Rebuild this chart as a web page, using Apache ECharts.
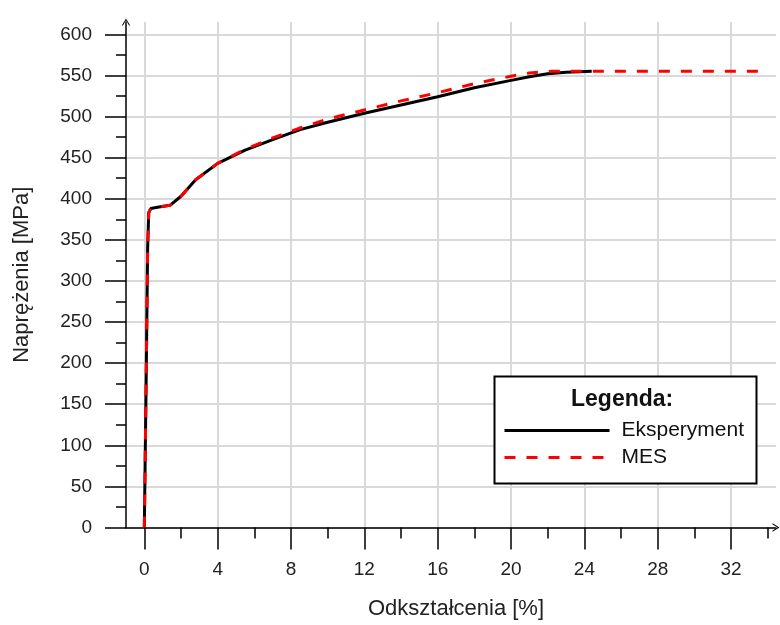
<!DOCTYPE html>
<html>
<head>
<meta charset="utf-8">
<script src="https://cdn.jsdelivr.net/npm/echarts@6/dist/echarts.min.js"></script>
<style>
  html, body { margin: 0; padding: 0; background: #fff; }
  #myChart { width: 780px; height: 625px; }
</style>
</head>
<body>
<div id="myChart"></div>
<script>
  // strain [%], stress [MPa]
  var eksperyment = [
    [0, 0], [0.1, 180], [0.18, 340], [0.24, 383], [0.35, 388], [0.8, 390],
    [1.4, 392], [2, 403], [2.8, 423], [4, 443], [5.5, 459], [7, 472],
    [8.5, 484], [10, 493], [12, 504], [14, 514], [16, 524], [18, 535],
    [20, 544], [21, 548.5], [22, 552], [23, 554], [24.4, 555]
  ]
  var mes = [
    [0, 0], [0.1, 180], [0.18, 340], [0.24, 383], [0.35, 388], [0.8, 390],
    [1.4, 392], [2, 403], [2.8, 423], [4, 443], [5.5, 460], [7, 474],
    [8.5, 486], [10, 497], [12, 508], [14, 519], [16, 529], [18, 540],
    [20, 549], [21, 553], [22.2, 555], [33.5, 555]
  ]
  var xMajorTicks = [0, 4, 8, 12, 16, 20, 24, 28, 32]
  var xMinorTicks = [2, 6, 10, 14, 18, 22, 26, 30, 34]
  var yMajorTicks = [0, 50, 100, 150, 200, 250, 300, 350, 400, 450, 500, 550, 600]
  var yMinorTicks = [25, 75, 125, 175, 225, 275, 325, 375, 425, 475, 525, 575]

  var font = 'Liberation Sans, Arial, sans-serif'
  var arrow = 'path://M0,10 L6,0 L12,10 L10.4,10 L6,2.6 L1.6,10 Z'

  var myChart = echarts.init(document.getElementById('myChart'))
  var option = {
    animation: false,
    backgroundColor: '#fff',
    grid: { left: 126, right: 4, top: 22, bottom: 97.5 },
    legend: {
      orient: 'vertical',
      left: 503,
      top: 420,
      padding: 0,
      icon: 'inherit',
      itemWidth: 105,
      itemHeight: 22,
      itemGap: 6,
      selectedMode: false,
      z: 20,
      itemStyle: { opacity: 0, borderWidth: 0 },
      lineStyle: { width: 3 },
      textStyle: { fontSize: 21, color: '#111', fontFamily: font, padding: [0, 0, 0, 7] },
      data: ['Eksperyment', 'MES']
    },
    graphic: [
      {
        type: 'rect', z: 10,
        shape: { x: 494.5, y: 376.5, width: 262, height: 107 },
        style: { fill: '#fff', stroke: '#000', lineWidth: 2 }
      },
      {
        type: 'text', z: 11, left: 571, top: 388,
        style: { text: 'Legenda:', font: 'bold 23px ' + font, fill: '#111' }
      }
    ],
    xAxis: [
      {
        type: 'value', min: -1, max: 34.45,
        name: 'Odkształcenia [%]', nameLocation: 'middle', nameGap: 70,
        nameTextStyle: { fontSize: 22, color: '#222', fontFamily: font, padding: [0, 0, 0, 10] },
        axisLine: { onZero: false, symbol: ['none', arrow], symbolSize: [11, 7], lineStyle: { color: '#000', width: 1.5 } },
        axisTick: { customValues: xMajorTicks, length: 22, lineStyle: { color: '#000', width: 1.5 } },
        axisLabel: { customValues: xMajorTicks, margin: 33, fontSize: 19, color: '#222', fontFamily: font },
        splitLine: { show: true, lineStyle: { color: '#d9d9d9', width: 2 } }
      },
      {
        type: 'value', min: -1, max: 34.45, position: 'bottom',
        axisLine: { show: false, onZero: false },
        axisTick: { customValues: xMinorTicks, length: 11, lineStyle: { color: '#000', width: 1.5 } },
        axisLabel: { show: false },
        splitLine: { show: false }
      }
    ],
    yAxis: [
      {
        type: 'value', min: 0, max: 615,
        name: 'Naprężenia [MPa]', nameLocation: 'middle', nameGap: 93,
        nameTextStyle: { fontSize: 22, color: '#222', fontFamily: font },
        axisLine: { onZero: false, symbol: ['none', arrow], symbolSize: [11, 7], lineStyle: { color: '#000', width: 1.5 } },
        axisTick: { customValues: yMajorTicks, length: 21, lineStyle: { color: '#000', width: 1.5 } },
        axisLabel: { customValues: yMajorTicks, margin: 34, fontSize: 19, color: '#222', fontFamily: font },
        splitLine: { show: true, lineStyle: { color: '#d9d9d9', width: 2 } }
      },
      {
        type: 'value', min: 0, max: 615, position: 'left',
        axisLine: { show: false, onZero: false },
        axisTick: { customValues: yMinorTicks, length: 10, lineStyle: { color: '#000', width: 1.5 } },
        axisLabel: { show: false },
        splitLine: { show: false }
      }
    ],
    series: [
      {
        name: 'Eksperyment', type: 'line', symbol: 'none',
        lineStyle: { color: '#000', width: 3 },
        itemStyle: { color: '#000' },
        data: eksperyment
      },
      {
        name: 'MES', type: 'line', symbol: 'none',
        lineStyle: { color: '#ff0000', width: 3, type: [11, 11] },
        itemStyle: { color: '#ff0000' },
        data: mes
      }
    ]
  }
  myChart.setOption(option)
</script>
</body>
</html>
